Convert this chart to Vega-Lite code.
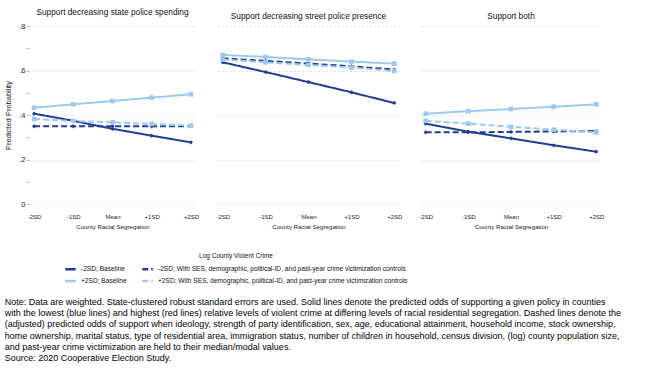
{
  "$schema": "https://vega.github.io/schema/vega-lite/v6.json",
  "padding": {"left": 4, "top": 7, "right": 5, "bottom": 5},
  "background": "white",
  "data": {"name": "d"},
  "config": {
    "font": "Liberation Sans",
    "view": {"stroke": null},
    "concat": {"spacing": 16},
    "axis": {"labelFont": "Liberation Sans", "titleFont": "Liberation Sans", "labelColor": "#222", "titleColor": "#222", "titleFontWeight": "normal"},
    "title": {"font": "Liberation Sans", "fontWeight": "normal", "color": "#111"}
  },
  "datasets": {
    "d": [
      {"panel": "A", "seg": "-2SD", "series": "-2SD; Baseline", "p": 0.406},
      {"panel": "A", "seg": "-1SD", "series": "-2SD; Baseline", "p": 0.374},
      {"panel": "A", "seg": "Mean", "series": "-2SD; Baseline", "p": 0.338},
      {"panel": "A", "seg": "+1SD", "series": "-2SD; Baseline", "p": 0.307},
      {"panel": "A", "seg": "+2SD", "series": "-2SD; Baseline", "p": 0.277},
      {"panel": "A", "seg": "-2SD", "series": "+2SD; Baseline", "p": 0.433},
      {"panel": "A", "seg": "-1SD", "series": "+2SD; Baseline", "p": 0.448},
      {"panel": "A", "seg": "Mean", "series": "+2SD; Baseline", "p": 0.463},
      {"panel": "A", "seg": "+1SD", "series": "+2SD; Baseline", "p": 0.478},
      {"panel": "A", "seg": "+2SD", "series": "+2SD; Baseline", "p": 0.493},
      {"panel": "A", "seg": "-2SD", "series": "-2SD; With SES, demographic, political-ID, and past-year crime victimization controls", "p": 0.349},
      {"panel": "A", "seg": "-1SD", "series": "-2SD; With SES, demographic, political-ID, and past-year crime victimization controls", "p": 0.349},
      {"panel": "A", "seg": "Mean", "series": "-2SD; With SES, demographic, political-ID, and past-year crime victimization controls", "p": 0.349},
      {"panel": "A", "seg": "+1SD", "series": "-2SD; With SES, demographic, political-ID, and past-year crime victimization controls", "p": 0.349},
      {"panel": "A", "seg": "+2SD", "series": "-2SD; With SES, demographic, political-ID, and past-year crime victimization controls", "p": 0.350},
      {"panel": "A", "seg": "-2SD", "series": "+2SD; With SES, demographic, political-ID, and past-year crime victimization controls", "p": 0.382},
      {"panel": "A", "seg": "-1SD", "series": "+2SD; With SES, demographic, political-ID, and past-year crime victimization controls", "p": 0.373},
      {"panel": "A", "seg": "Mean", "series": "+2SD; With SES, demographic, political-ID, and past-year crime victimization controls", "p": 0.367},
      {"panel": "A", "seg": "+1SD", "series": "+2SD; With SES, demographic, political-ID, and past-year crime victimization controls", "p": 0.360},
      {"panel": "A", "seg": "+2SD", "series": "+2SD; With SES, demographic, political-ID, and past-year crime victimization controls", "p": 0.352},

      {"panel": "B", "seg": "-2SD", "series": "-2SD; Baseline", "p": 0.637},
      {"panel": "B", "seg": "-1SD", "series": "-2SD; Baseline", "p": 0.593},
      {"panel": "B", "seg": "Mean", "series": "-2SD; Baseline", "p": 0.548},
      {"panel": "B", "seg": "+1SD", "series": "-2SD; Baseline", "p": 0.502},
      {"panel": "B", "seg": "+2SD", "series": "-2SD; Baseline", "p": 0.454},
      {"panel": "B", "seg": "-2SD", "series": "+2SD; Baseline", "p": 0.670},
      {"panel": "B", "seg": "-1SD", "series": "+2SD; Baseline", "p": 0.661},
      {"panel": "B", "seg": "Mean", "series": "+2SD; Baseline", "p": 0.650},
      {"panel": "B", "seg": "+1SD", "series": "+2SD; Baseline", "p": 0.640},
      {"panel": "B", "seg": "+2SD", "series": "+2SD; Baseline", "p": 0.631},
      {"panel": "B", "seg": "-2SD", "series": "-2SD; With SES, demographic, political-ID, and past-year crime victimization controls", "p": 0.655},
      {"panel": "B", "seg": "-1SD", "series": "-2SD; With SES, demographic, political-ID, and past-year crime victimization controls", "p": 0.643},
      {"panel": "B", "seg": "Mean", "series": "-2SD; With SES, demographic, political-ID, and past-year crime victimization controls", "p": 0.631},
      {"panel": "B", "seg": "+1SD", "series": "-2SD; With SES, demographic, political-ID, and past-year crime victimization controls", "p": 0.619},
      {"panel": "B", "seg": "+2SD", "series": "-2SD; With SES, demographic, political-ID, and past-year crime victimization controls", "p": 0.604},
      {"panel": "B", "seg": "-2SD", "series": "+2SD; With SES, demographic, political-ID, and past-year crime victimization controls", "p": 0.649},
      {"panel": "B", "seg": "-1SD", "series": "+2SD; With SES, demographic, political-ID, and past-year crime victimization controls", "p": 0.637},
      {"panel": "B", "seg": "Mean", "series": "+2SD; With SES, demographic, political-ID, and past-year crime victimization controls", "p": 0.625},
      {"panel": "B", "seg": "+1SD", "series": "+2SD; With SES, demographic, political-ID, and past-year crime victimization controls", "p": 0.613},
      {"panel": "B", "seg": "+2SD", "series": "+2SD; With SES, demographic, political-ID, and past-year crime victimization controls", "p": 0.598},

      {"panel": "C", "seg": "-2SD", "series": "-2SD; Baseline", "p": 0.361},
      {"panel": "C", "seg": "-1SD", "series": "-2SD; Baseline", "p": 0.325},
      {"panel": "C", "seg": "Mean", "series": "-2SD; Baseline", "p": 0.295},
      {"panel": "C", "seg": "+1SD", "series": "-2SD; Baseline", "p": 0.264},
      {"panel": "C", "seg": "+2SD", "series": "-2SD; Baseline", "p": 0.235},
      {"panel": "C", "seg": "-2SD", "series": "+2SD; Baseline", "p": 0.406},
      {"panel": "C", "seg": "-1SD", "series": "+2SD; Baseline", "p": 0.417},
      {"panel": "C", "seg": "Mean", "series": "+2SD; Baseline", "p": 0.427},
      {"panel": "C", "seg": "+1SD", "series": "+2SD; Baseline", "p": 0.437},
      {"panel": "C", "seg": "+2SD", "series": "+2SD; Baseline", "p": 0.448},
      {"panel": "C", "seg": "-2SD", "series": "-2SD; With SES, demographic, political-ID, and past-year crime victimization controls", "p": 0.322},
      {"panel": "C", "seg": "-1SD", "series": "-2SD; With SES, demographic, political-ID, and past-year crime victimization controls", "p": 0.322},
      {"panel": "C", "seg": "Mean", "series": "-2SD; With SES, demographic, political-ID, and past-year crime victimization controls", "p": 0.324},
      {"panel": "C", "seg": "+1SD", "series": "-2SD; With SES, demographic, political-ID, and past-year crime victimization controls", "p": 0.326},
      {"panel": "C", "seg": "+2SD", "series": "-2SD; With SES, demographic, political-ID, and past-year crime victimization controls", "p": 0.328},
      {"panel": "C", "seg": "-2SD", "series": "+2SD; With SES, demographic, political-ID, and past-year crime victimization controls", "p": 0.374},
      {"panel": "C", "seg": "-1SD", "series": "+2SD; With SES, demographic, political-ID, and past-year crime victimization controls", "p": 0.361},
      {"panel": "C", "seg": "Mean", "series": "+2SD; With SES, demographic, political-ID, and past-year crime victimization controls", "p": 0.347},
      {"panel": "C", "seg": "+1SD", "series": "+2SD; With SES, demographic, political-ID, and past-year crime victimization controls", "p": 0.334},
      {"panel": "C", "seg": "+2SD", "series": "+2SD; With SES, demographic, political-ID, and past-year crime victimization controls", "p": 0.322}
    ]
  },
  "title": {
    "text": [
      "Note: Data are weighted. State-clustered robust standard errors are used. Solid lines denote the predicted odds of supporting a given policy in counties",
      "with the lowest (blue lines) and highest (red lines) relative levels of violent crime at differing levels of racial residential segregation. Dashed lines denote the",
      "(adjusted) predicted odds of support when ideology, strength of party identification, sex, age, educational attainment, household income, stock ownership,",
      "home ownership, marital status, type of residential area, immigration status, number of children in household, census division, (log) county population size,",
      "and past-year crime victimization are held to their median/modal values.",
      "Source: 2020 Cooperative Election Study."
    ],
    "orient": "bottom",
    "anchor": "start",
    "frame": "bounds",
    "fontSize": 9,
    "lineHeight": 11.2,
    "offset": 12,
    "color": "#000"
  },
  "resolve": {"scale": {"y": "shared", "x": "independent"}},
  "hconcat": [
    {
      "width": 167, "height": 178,
      "title": {"text": "Support decreasing state police spending", "fontSize": 8.3, "offset": 6},
      "transform": [{"filter": "datum.panel == 'A'"}],
      "encoding": {
        "x": {"field": "seg", "type": "ordinal", "sort": ["-2SD", "-1SD", "Mean", "+1SD", "+2SD"],
              "scale": {"type": "point", "padding": 0.13},
              "axis": {"title": "County Racial Segregation", "labelAngle": 0, "ticks": false, "domain": false, "labelFontSize": 6, "labelPadding": 9, "titleFontSize": 6.2, "titlePadding": 4, "grid": false}},
        "y": {"field": "p", "type": "quantitative",
              "scale": {"domain": [0, 0.8], "nice": false, "zero": false},
              "axis": {"title": "Predicted Probability", "values": [0, 0.1, 0.2, 0.3, 0.4, 0.5, 0.6, 0.7, 0.8],
                       "labelExpr": "round(datum.value*10) % 2 == 1 ? '' : (datum.value == 0 ? '0' : replace(format(datum.value, '.1f'), '0.', '.'))",
                       "domain": false, "tickSize": 3, "tickColor": "#bbb", "labelFontSize": 7.5, "labelPadding": 1, "titleFontSize": 7.5, "titlePadding": 6,
                       "grid": true, "gridDash": [1, 3], "gridColor": "#c4c4c4",
                       "gridOpacity": {"condition": {"test": "round(datum.value*10) % 2 == 1", "value": 0}, "value": 1}}},
        "color": {"field": "series", "type": "nominal",
                  "scale": {"domain": ["-2SD; Baseline", "+2SD; Baseline", "-2SD; With SES, demographic, political-ID, and past-year crime victimization controls", "+2SD; With SES, demographic, political-ID, and past-year crime victimization controls"],
                            "range": ["#1f3e92", "#9ccaee", "#1f3e92", "#9ccaee"]},
                  "legend": {"title": "Log County Violent Crime", "orient": "none", "legendX": 35, "legendY": 227, "columns": 2, "titleAnchor": "middle", "titleFontWeight": "normal", "titleFontSize": 6.5, "labelFontSize": 6.6, "labelOffset": 4, "columnPadding": 10, "rowPadding": 0, "symbolType": "stroke", "symbolStrokeWidth": 2.5, "symbolSize": 110, "labelLimit": 400, "labelColor": "#111", "titleColor": "#111", "titlePadding": 3}},
        "strokeDash": {"field": "series", "type": "nominal",
                  "scale": {"domain": ["-2SD; Baseline", "+2SD; Baseline", "-2SD; With SES, demographic, political-ID, and past-year crime victimization controls", "+2SD; With SES, demographic, political-ID, and past-year crime victimization controls"],
                            "range": [[1, 0], [1, 0], [6, 3], [6, 3]]},
                  "legend": {"title": "Log County Violent Crime"}}
      },
      "layer": [
        {"mark": {"type": "line", "strokeWidth": 2}},
        {"transform": [{"filter": "indexof(datum.series, '-2SD') == 0"}], "mark": {"type": "point", "filled": true, "opacity": 1, "size": 18, "shape": "diamond"}, "encoding": {"strokeDash": {"value": [1, 0]}}},
        {"transform": [{"filter": "indexof(datum.series, '+2SD') == 0"}], "mark": {"type": "point", "filled": true, "opacity": 1, "size": 22, "shape": "square"}, "encoding": {"strokeDash": {"value": [1, 0]}}}
      ]
    },
    {
      "width": 181, "height": 178,
      "title": {"text": "Support decreasing street police presence", "fontSize": 8.3, "offset": 6},
      "transform": [{"filter": "datum.panel == 'B'"}],
      "encoding": {
        "x": {"field": "seg", "type": "ordinal", "sort": ["-2SD", "-1SD", "Mean", "+1SD", "+2SD"],
              "scale": {"type": "point", "padding": 0.11},
              "axis": {"title": "County Racial Segregation", "labelAngle": 0, "ticks": false, "domain": false, "labelFontSize": 6, "labelPadding": 9, "titleFontSize": 6.2, "titlePadding": 4, "grid": false}},
        "y": {"field": "p", "type": "quantitative",
              "scale": {"domain": [0, 0.8], "nice": false, "zero": false},
              "axis": {"title": null, "labels": false, "ticks": false, "domain": false, "values": [0, 0.2, 0.4, 0.6, 0.8],
                       "grid": true, "gridDash": [1, 3], "gridColor": "#c4c4c4"}},
        "color": {"field": "series", "type": "nominal"},
        "strokeDash": {"field": "series", "type": "nominal"}
      },
      "layer": [
        {"mark": {"type": "line", "strokeWidth": 2}},
        {"transform": [{"filter": "indexof(datum.series, '-2SD') == 0"}], "mark": {"type": "point", "filled": true, "opacity": 1, "size": 18, "shape": "diamond"}, "encoding": {"strokeDash": {"value": [1, 0]}}},
        {"transform": [{"filter": "indexof(datum.series, '+2SD') == 0"}], "mark": {"type": "point", "filled": true, "opacity": 1, "size": 22, "shape": "square"}, "encoding": {"strokeDash": {"value": [1, 0]}}}
      ]
    },
    {
      "width": 180, "height": 178,
      "title": {"text": "Support both", "fontSize": 8.3, "offset": 6},
      "transform": [{"filter": "datum.panel == 'C'"}],
      "encoding": {
        "x": {"field": "seg", "type": "ordinal", "sort": ["-2SD", "-1SD", "Mean", "+1SD", "+2SD"],
              "scale": {"type": "point", "padding": 0.11},
              "axis": {"title": "County Racial Segregation", "labelAngle": 0, "ticks": false, "domain": false, "labelFontSize": 6, "labelPadding": 9, "titleFontSize": 6.2, "titlePadding": 4, "grid": false}},
        "y": {"field": "p", "type": "quantitative",
              "scale": {"domain": [0, 0.8], "nice": false, "zero": false},
              "axis": {"title": null, "labels": false, "ticks": false, "domain": false, "values": [0, 0.2, 0.4, 0.6, 0.8],
                       "grid": true, "gridDash": [1, 3], "gridColor": "#c4c4c4"}},
        "color": {"field": "series", "type": "nominal"},
        "strokeDash": {"field": "series", "type": "nominal"}
      },
      "layer": [
        {"mark": {"type": "line", "strokeWidth": 2}},
        {"transform": [{"filter": "indexof(datum.series, '-2SD') == 0"}], "mark": {"type": "point", "filled": true, "opacity": 1, "size": 18, "shape": "diamond"}, "encoding": {"strokeDash": {"value": [1, 0]}}},
        {"transform": [{"filter": "indexof(datum.series, '+2SD') == 0"}], "mark": {"type": "point", "filled": true, "opacity": 1, "size": 22, "shape": "square"}, "encoding": {"strokeDash": {"value": [1, 0]}}}
      ]
    }
  ]
}
